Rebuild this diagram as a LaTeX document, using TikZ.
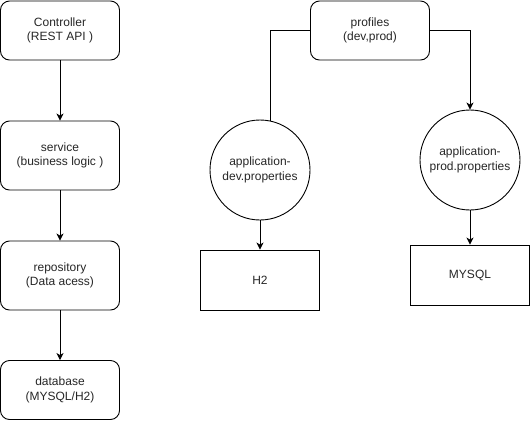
\documentclass[tikz,border=0pt]{standalone}
\usepackage{fontspec}
\setmainfont{Liberation Sans}
\usetikzlibrary{arrows.meta}
\begin{document}
\begin{tikzpicture}[x=1pt,y=-1pt,
  every node/.style={font=\fontsize{12}{14.5}\selectfont, align=center, inner sep=0pt, text=black!85},
  rbox/.style={draw, line width=0.9pt, rounded corners=9pt, minimum width=119pt, minimum height=59pt},
  sbox/.style={draw, line width=0.9pt, minimum width=119pt, minimum height=59pt},
  circ/.style={draw, line width=0.9pt, circle, minimum size=100pt},
  conn/.style={line width=0.9pt, -{Stealth[length=7pt,width=7pt,inset=2pt]}},
  plain/.style={line width=0.9pt}]
\useasboundingbox (0,0) rectangle (531,421);
\node[rbox] (ctrl) at (60,30.5) {Controller\\(REST API )};
\node[rbox, minimum height=69pt] (svc) at (60,155.5) {service\\(business logic )};
\node[rbox, minimum height=69pt] (repo) at (60,275.5) {repository\\(Data acess)};
\node[rbox] (db) at (60,390) {database\\(MYSQL/H2)};
\node[rbox] (prof) at (370,30.5) {profiles\\(dev,prod)};
\node[circ] (dev) at (260,170) {application-\\dev.properties};
\node[circ] (prod) at (470,160) {application-\\prod.properties};
\node[sbox, minimum height=60pt] (h2) at (260,280) {H2};
\node[sbox, minimum height=60pt] (my) at (470,275) {MYSQL};
\draw[conn] (ctrl) -- (svc);
\draw[conn] (svc) -- (repo);
\draw[conn] (repo) -- (db);
\coordinate (devtop) at (270,121);
\draw[plain] (prof.west |- 0,30) -| (devtop);
\draw[conn] (prof.east |- 0,30) -| (prod.north);
\draw[conn] (dev) -- (h2);
\draw[conn] (prod) -- (my);
\end{tikzpicture}
\end{document}
